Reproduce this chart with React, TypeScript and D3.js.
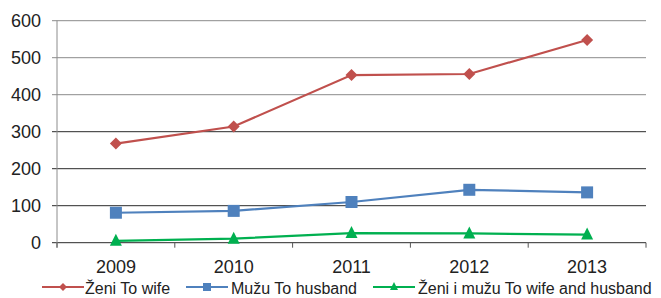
import React from "react";
import * as d3 from "d3";

const categories = ["2009", "2010", "2011", "2012", "2013"];
const wifeValues = [268, 314, 453, 456, 548];
const husbandValues = [81, 86, 110, 143, 136];
const bothValues = [5, 11, 26, 25, 22];
const yTicks = [0, 100, 200, 300, 400, 500, 600];
const seriesNames = ["Ženi To wife", "Mužu To husband", "Ženi i mužu To wife and husband"];

const W = 661;
const H = 298;
const left = 57;
const right = 646;
const top = 20.7;
const bottom = 242.7;
const font = "'Liberation Sans', Arial, sans-serif";

const colors = ["#C0504D", "#4F81BD", "#00B050"];
const shapes = ["diamond", "square", "triangle"];

function Marker({ shape, x, y, color, s }: { shape: string; x: number; y: number; color: string; s: number }) {
  if (shape === "diamond") {
    return <path d={`M${x},${y - s}L${x + s},${y}L${x},${y + s}L${x - s},${y}Z`} fill={color} />;
  }
  if (shape === "square") {
    return <rect x={x - s} y={y - s} width={2 * s} height={2 * s} fill={color} />;
  }
  return <path d={`M${x},${y - s - 1}L${x + s},${y + s - 1}L${x - s},${y + s - 1}Z`} fill={color} />;
}

export default function App() {
  const x = d3.scaleBand<string>().domain(categories).range([left, right]);
  const y = d3.scaleLinear().domain([0, 600]).range([bottom, top]);
  const line = d3
    .line<number>()
    .x((_, i) => (x(categories[i]) as number) + x.bandwidth() / 2)
    .y((d) => y(d));
  const allSeries = [wifeValues, husbandValues, bothValues];
  const legendItems = [
    { lx: 42, tx: 85 },
    { lx: 186, tx: 231 },
    { lx: 373, tx: 418 },
  ];
  const legendY = 287;
  const xTickPos = [...categories.map((c) => x(c) as number), right];

  return (
    <svg width={W} height={H} style={{ position: "absolute", left: 0, top: 0, background: "#fff" }}>
      {yTicks.map((t) => (
        <g key={t}>
          <line
            x1={left - 5}
            x2={right}
            y1={y(t)}
            y2={y(t)}
            stroke={t >= 400 ? "#8c8c8c" : "#2a2a2a"}
            strokeWidth={1}
          />
          <text x={41} y={y(t)} dy="0.36em" textAnchor="end" fontFamily={font} fontSize={18} fill="#222">
            {t}
          </text>
        </g>
      ))}
      <line x1={left} x2={left} y1={top} y2={bottom + 5} stroke="#8c8c8c" strokeWidth={1} />
      {xTickPos.map((p, i) => (
        <line key={i} x1={p} x2={p} y1={bottom} y2={bottom + 5} stroke="#555" strokeWidth={1} />
      ))}
      {categories.map((c) => (
        <text
          key={c}
          x={(x(c) as number) + x.bandwidth() / 2}
          y={273}
          textAnchor="middle"
          fontFamily={font}
          fontSize={18}
          fill="#222"
        >
          {c}
        </text>
      ))}
      {allSeries.map((vals, si) => (
        <g key={si}>
          <path d={line(vals) as string} fill="none" stroke={colors[si]} strokeWidth={2.2} />
          {vals.map((v, i) => (
            <Marker
              key={i}
              shape={shapes[si]}
              x={(x(categories[i]) as number) + x.bandwidth() / 2}
              y={y(v)}
              color={colors[si]}
              s={6}
            />
          ))}
        </g>
      ))}
      {legendItems.map((it, i) => (
        <g key={i}>
          <line x1={it.lx} x2={it.lx + 42} y1={legendY} y2={legendY} stroke={colors[i]} strokeWidth={2} />
          <Marker shape={shapes[i]} x={it.lx + 21} y={legendY} color={colors[i]} s={4} />
          <text x={it.tx} y={294} fontFamily={font} fontSize={16} fill="#222">
            {seriesNames[i]}
          </text>
        </g>
      ))}
    </svg>
  );
}
